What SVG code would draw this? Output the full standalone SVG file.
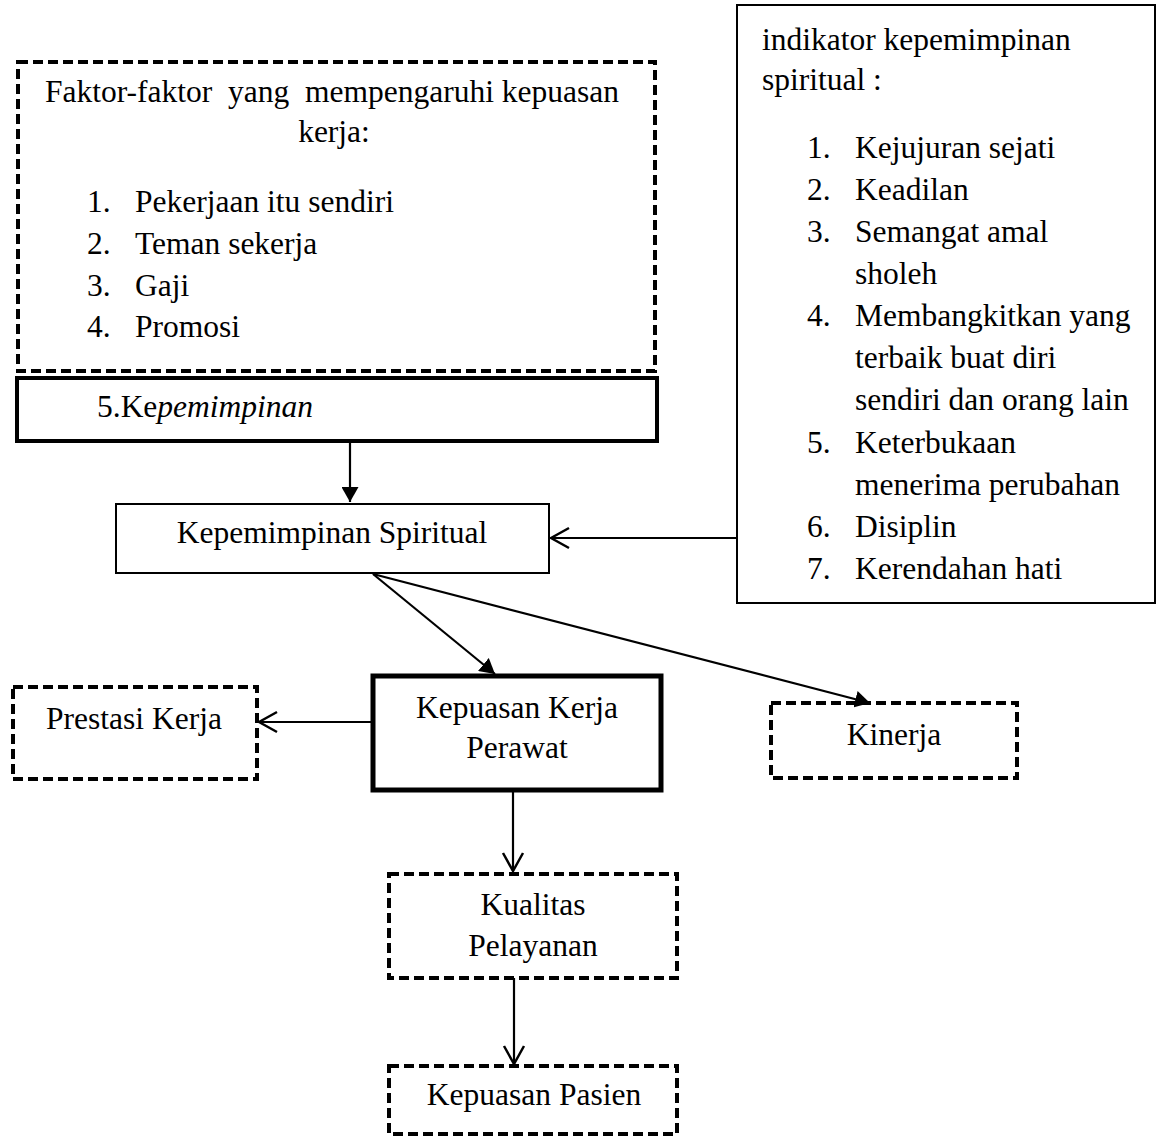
<svg xmlns="http://www.w3.org/2000/svg" width="1157" height="1138" viewBox="0 0 1157 1138">
<style>
text{font-family:"Liberation Serif","Times New Roman",serif;font-size:31.5px;fill:#000}
.c{text-anchor:middle}
.dash{fill:#fff;stroke:#000;stroke-width:4;stroke-dasharray:10 5}
.thin{fill:#fff;stroke:#000;stroke-width:2}
.thick{fill:#fff;stroke:#000;stroke-width:4}
.thicker{fill:#fff;stroke:#000;stroke-width:5}
.conn{fill:none;stroke:#000;stroke-width:2.2}
</style>
<defs>
<marker id="fill" viewBox="0 0 15 17" markerWidth="15" markerHeight="17" refX="15" refY="8.5" orient="auto" markerUnits="userSpaceOnUse">
<path d="M0,0 L15,8.5 L0,17 Z" fill="#000"/>
</marker>
<marker id="open" viewBox="-2 -2 22 24" markerWidth="22" markerHeight="24" refX="18" refY="10" orient="auto" markerUnits="userSpaceOnUse">
<path d="M0,0 L18,10 L0,20" fill="none" stroke="#000" stroke-width="2.5"/>
</marker>
</defs>
<rect width="1157" height="1138" fill="#fff"/>
<g id="faktor">
<rect class="dash" x="18" y="62" width="637" height="309"/>
<text x="45" y="102" xml:space="preserve" style="white-space:pre">Faktor-faktor  yang  mempengaruhi kepuasan</text>
<text class="c" x="334" y="142">kerja:</text>
<text x="87" y="212">1.</text><text x="135" y="212">Pekerjaan itu sendiri</text>
<text x="87" y="254">2.</text><text x="135" y="254">Teman sekerja</text>
<text x="87" y="296">3.</text><text x="135" y="296">Gaji</text>
<text x="87" y="337">4.</text><text x="135" y="337">Promosi</text>
</g>
<g id="kepemimpinan">
<rect class="thick" x="17" y="378" width="640" height="63"/>
<text x="97" y="417">5.Ke<tspan font-style="italic">pemimpinan</tspan></text>
</g>
<g id="indikator">
<rect class="thin" x="737" y="5" width="418" height="598"/>
<text x="762" y="50">indikator kepemimpinan</text>
<text x="762" y="90">spiritual :</text>
<text x="807" y="158">1.</text><text x="855" y="158">Kejujuran sejati</text>
<text x="807" y="200">2.</text><text x="855" y="200">Keadilan</text>
<text x="807" y="242">3.</text><text x="855" y="242">Semangat amal</text>
<text x="855" y="284">sholeh</text>
<text x="807" y="326">4.</text><text x="855" y="326">Membangkitkan yang</text>
<text x="855" y="368">terbaik buat diri</text>
<text x="855" y="410">sendiri dan orang lain</text>
<text x="807" y="453">5.</text><text x="855" y="453">Keterbukaan</text>
<text x="855" y="495">menerima perubahan</text>
<text x="807" y="537">6.</text><text x="855" y="537">Disiplin</text>
<text x="807" y="579">7.</text><text x="855" y="579">Kerendahan hati</text>
</g>
<g id="spiritual">
<rect class="thin" x="116" y="504" width="433" height="69"/>
<text class="c" x="332" y="543">Kepemimpinan Spiritual</text>
</g>
<g id="kepuasan-kerja">
<rect class="thicker" x="373" y="676" width="288" height="114"/>
<text class="c" x="517" y="718">Kepuasan Kerja</text>
<text class="c" x="517" y="758">Perawat</text>
</g>
<g id="prestasi">
<rect class="dash" x="13" y="687" width="244" height="92"/>
<text class="c" x="134" y="729">Prestasi Kerja</text>
</g>
<g id="kinerja">
<rect class="dash" x="771" y="703" width="246" height="75"/>
<text class="c" x="894" y="745">Kinerja</text>
</g>
<g id="kualitas">
<rect class="dash" x="389" y="874" width="288" height="104"/>
<text class="c" x="533" y="915">Kualitas</text>
<text class="c" x="533" y="956">Pelayanan</text>
</g>
<g id="pasien">
<rect class="dash" x="389" y="1066" width="288" height="68"/>
<text class="c" x="534" y="1105">Kepuasan Pasien</text>
</g>
<g id="connectors">
<path class="conn" d="M350,442 L350,502" marker-end="url(#fill)"/>
<path class="conn" d="M737,538 L551,538" marker-end="url(#open)"/>
<path class="conn" d="M373,574 L495,674" marker-end="url(#fill)"/>
<path class="conn" d="M373,574 L870,703" marker-end="url(#fill)"/>
<path class="conn" d="M371,722 L259,722" marker-end="url(#open)"/>
<path class="conn" d="M513,792 L513,871" marker-end="url(#open)"/>
<path class="conn" d="M514,978 L514,1064" marker-end="url(#open)"/>
</g>
</svg>
